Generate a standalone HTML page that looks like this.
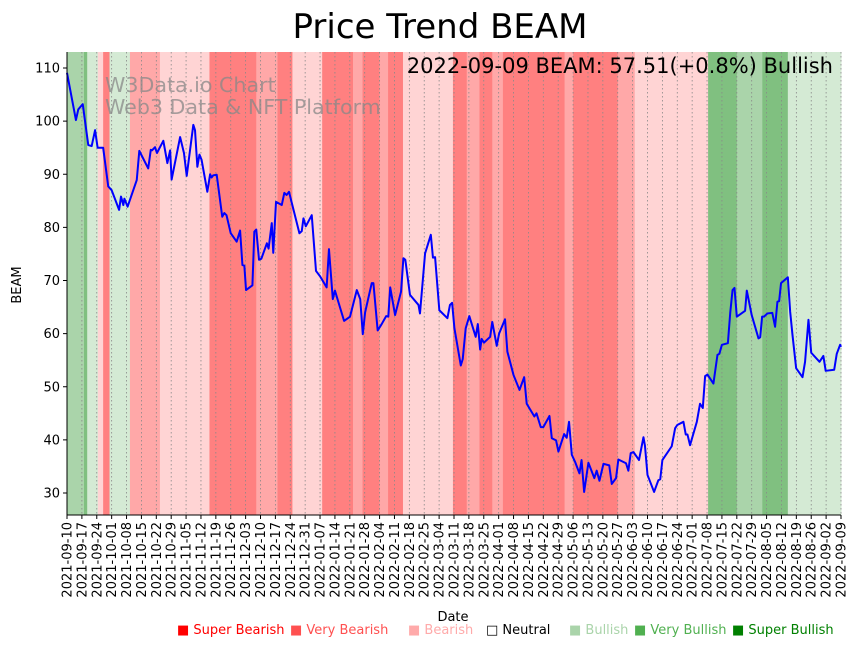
<!DOCTYPE html>
<html><head><meta charset="utf-8">
<style>
html,body{margin:0;padding:0;background:#fff;}
svg{display:block;font-family:"DejaVu Sans","Liberation Sans",sans-serif;}
</style></head>
<body>
<svg id="chart" width="857" height="646" viewBox="0 0 857 646" xmlns="http://www.w3.org/2000/svg">
  <g id="bands"></g>
  <g id="grid"></g>
  <g id="wm">
    <text x="105" y="92" font-size="20.6" fill="#888" fill-opacity="0.75">W3Data.io Chart</text>
    <text x="105" y="114" font-size="20.6" fill="#888" fill-opacity="0.75">Web3 Data &amp; NFT Platform</text>
  </g>
  <path id="line" fill="none" stroke="#0000ff" stroke-width="2" stroke-linejoin="round"/>
  <g id="axes"></g>
  <text x="440" y="38" font-size="34" text-anchor="middle">Price Trend BEAM</text>
  <text x="833" y="73" font-size="21" text-anchor="end">2022-09-09 BEAM: 57.51(+0.8%) Bullish</text>
  <text x="453" y="621" font-size="13" text-anchor="middle">Date</text>
  <text transform="translate(21,285) rotate(-90)" font-size="13" text-anchor="middle">BEAM</text>
  <g id="legend"></g>
</svg>
<script>
const priceDays=[0,4.2,5.3,7.4,10,11.6,13.2,14.4,17,19.4,21,24.5,25.4,26.5,27,28.5,32.8,34,38.2,39.4,40,41.4,42.3,45.3,47.2,48.5,49.2,53.2,55,56.3,59.4,60.2,61.3,62.3,63.3,66,67.3,68,68.8,70.4,73,74,75,77,79.8,81.4,82.5,83.4,84.2,87.2,88.1,89,90.3,91.4,94,94.8,96.3,97,98.3,101,102.2,103.3,104.4,109.3,110.4,111.2,112.3,115.1,117.1,119,122.1,123.2,125,126,130.3,133.1,136.3,137.9,139.1,140.2,143.3,144.1,146.1,148,150.1,151.1,152,154.3,157.1,158.2,159.1,161.3,165.3,166,168.4,171.1,172.1,173.1,175.1,178.9,180.1,181.1,182.2,185.2,186.1,187.5,189.2,192.2,193.2,194.3,195,196.1,199,200,202.1,203.2,206,207.1,210,212.8,215,216.2,219.8,220.8,222.8,224,226.9,228,230,231.1,233.8,235,236.1,237.4,238.9,241,242,243.2,245.2,248,249.1,250.4,252.3,255,256.2,258.2,259.3,262.9,264,265.1,266.4,269,271.1,271.8,273,276.1,278.1,279,280,284.4,286,287,289.9,291,291.8,293,296.2,297.7,299,300.1,301.2,304,305.9,306.8,308,310.8,311.9,313,313.9,315,318.9,319.7,322,325.2,326,326.9,327.8,329.4,331.7,333,334.1,334.9,335.8,339,340.1,341.2,342.9,345.9,347.1,348.7,350,353.9,355.7,356.8,360.8,362,363.6,364];
const priceValues=[109.1,100.2,102.2,103.2,95.5,95.3,98.3,95.0,95.0,87.7,87.0,83.3,85.8,84.2,85.4,83.9,88.9,94.4,91.1,94.6,94.5,95.1,94.0,96.3,92.1,94.5,89.0,97.0,94.0,89.7,99.3,98.3,91.4,93.7,92.7,86.7,90.0,89.4,89.8,89.9,82.0,82.7,82.3,78.9,77.3,79.4,72.9,72.8,68.2,69.1,79.2,79.6,73.9,74.1,77.0,76.0,80.8,75.2,84.8,84.2,86.5,86.1,86.7,78.9,79.3,81.7,80.2,82.3,71.8,70.8,68.7,75.9,66.5,68.1,62.4,63.2,68.2,66.5,59.9,64.0,69.5,69.5,60.6,61.8,63.3,63.2,68.7,63.5,67.9,74.2,73.9,67.3,65.4,63.8,75.1,78.6,74.3,74.4,64.4,62.9,65.4,65.8,61.0,54.0,55.2,61.0,63.3,59.4,61.8,57.0,59.0,58.3,59.4,62.2,57.7,60.0,62.7,56.6,52.2,49.4,51.8,46.8,44.4,45.0,42.4,42.4,44.5,40.3,39.9,37.8,41.1,40.4,43.4,37.2,35.9,33.7,36.2,30.2,35.7,32.8,34.2,32.3,35.5,35.2,31.7,32.8,36.3,35.6,34.2,37.5,37.7,36.2,40.5,38.9,33.4,30.2,32.4,32.6,36.2,38.8,42.2,42.8,43.4,41.0,41.0,39.0,43.4,46.8,46.0,52.0,52.3,50.6,56.0,56.2,57.9,58.2,63.9,68.2,68.6,63.2,64.3,68.1,63.5,59.1,59.3,63.2,63.2,63.8,63.9,61.3,66.0,66.1,69.5,70.6,64.1,59.7,53.5,51.8,54.7,62.6,56.4,54.7,55.8,53.0,53.2,56.2,57.9,57.51];
// sentiment bands: start day, end day, level (-3..3)
const bandStarts=[0,8,9.5,14.5,17,20,29.6,43.7,67,89,99,106,120,134.5,139,147,151,158,181.5,188,194,200,205,234,238,259,267,301.5,315,320,327,332,339];
const bandEnds=[8,9.5,14.5,17,20,29.6,43.7,67,89,99,106,120,134.5,139,147,151,158,181.5,188,194,200,205,234,238,259,267,301.5,315,320,327,332,339,364.5];
const bandLevels=[2,3,1,-1,-3,1,-2,-1,-3,-2,-3,-1,-3,-2,-3,-2,-3,-1,-3,-2,-3,-2,-3,-2,-3,-2,-1,3,2,2,3,3,1];
const yTicks=[30,40,50,60,70,80,90,100,110];
const legendLabels=["Super Bearish","Very Bearish","Bearish","Neutral","Bullish","Very Bullish","Super Bullish"];

const NS="http://www.w3.org/2000/svg";
const L=67,R=841,T=52,B=515;
const D0=Date.UTC(2021,8,10);
function xs(d){return L+d*(R-L)/364;}
function ys(v){return 493-(v-30)*(425/80);}
function mk(tag,attrs,parent){const e=document.createElementNS(NS,tag);for(const k in attrs)e.setAttribute(k,attrs[k]);parent.appendChild(e);return e;}
const bandColor={"-3":"#ff8080","-2":"#ffa8a8","-1":"#ffd4d4","0":"#ffffff","1":"#d4ead4","2":"#aad4aa","3":"#80c080"};

const bg=document.getElementById('bands');
for(let i=0;i<bandStarts.length;i++){
  const x0=xs(bandStarts[i]),x1=Math.min(R,xs(bandEnds[i]));
  const r=mk('rect',{x:x0,y:T,width:x1-x0+0.5,height:B-T,fill:bandColor[bandLevels[i]]},bg);
  
  
}
const grid=document.getElementById('grid');
const ax=document.getElementById('axes');
for(let k=0;k<=52;k++){
  const d=k*7,x=xs(d);
  const g=mk('line',{x1:x,x2:x,y1:T,y2:B,stroke:'#888','stroke-width':0.8,'stroke-dasharray':'1.5,2.5'},grid);
  
  
  mk('line',{x1:x,x2:x,y1:B,y2:B+4,stroke:'#000'},ax);
  const dt=new Date(D0+d*86400000);
  const s=dt.getUTCFullYear()+'-'+String(dt.getUTCMonth()+1).padStart(2,'0')+'-'+String(dt.getUTCDate()).padStart(2,'0');
  const t=mk('text',{transform:`translate(${x+4.5},${B+7}) rotate(-90)`,'font-size':13,'text-anchor':'end'},ax);
  t.textContent=s;
  
  
}
yTicks.forEach(v=>{
  const y=ys(v);
  mk('line',{x1:L-4,x2:L,y1:y,y2:y,stroke:'#000'},ax);
  const t=mk('text',{x:L-7,y:y+4.5,'font-size':13,'text-anchor':'end'},ax);
  t.textContent=v;
  
  
});
mk('line',{x1:L,x2:L,y1:T,y2:B,stroke:'#000'},ax);
mk('line',{x1:L,x2:R,y1:B,y2:B,stroke:'#000'},ax);

let dstr='';
for(let i=0;i<priceDays.length;i++){dstr+=(i?'L':'M')+xs(priceDays[i]).toFixed(2)+','+ys(priceValues[i]).toFixed(2);}
document.getElementById('line').setAttribute('d',dstr);

const lg=document.getElementById('legend');
const lgX=[177,290,408,486,569,634,732];
const lgCol=["#ff0000","#ff5050","#ffaaaa","#000000","#aad4aa","#50b050","#008000"];
legendLabels.forEach((lab,i)=>{
  const t=mk('text',{x:lgX[i],y:634,'font-size':13,fill:lgCol[i]},lg);
  t.textContent=(i===3?'\u25A1 ':'\u25A0 ')+lab;
  
  
});
</script>
</body></html>
